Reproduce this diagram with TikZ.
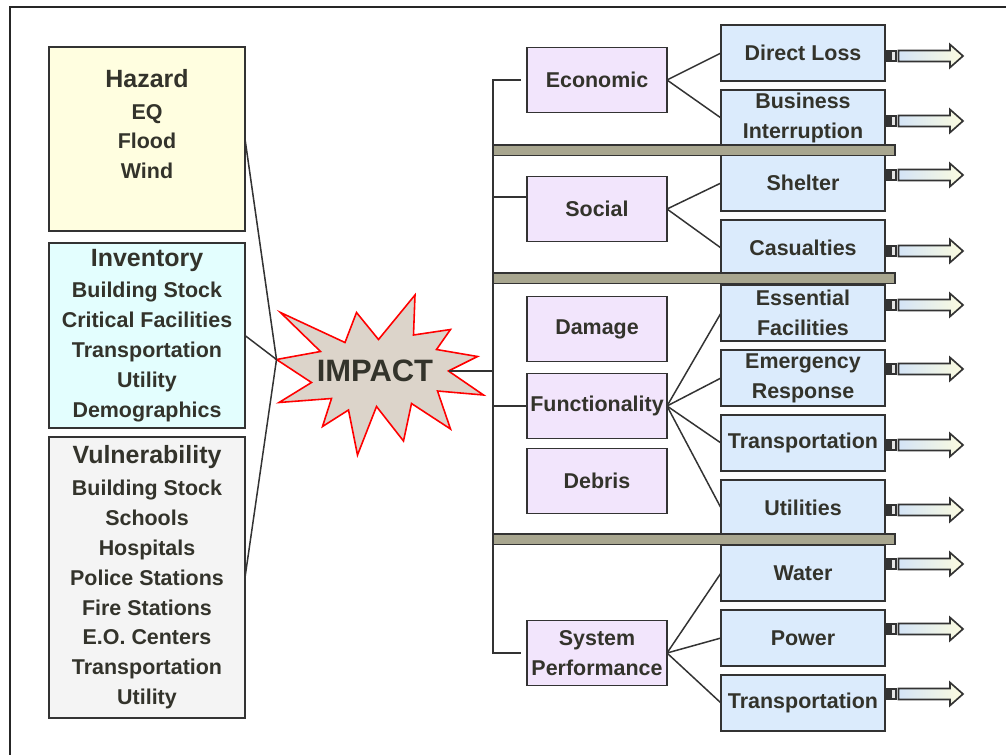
\documentclass[tikz,border=0pt]{standalone}
\usepackage{fontspec}
\setmainfont{Liberation Sans}
\usepackage{tikz}
\usetikzlibrary{positioning,calc}
\definecolor{lineaOsc}{HTML}{333333}
\definecolor{textoOsc}{HTML}{33332B}
\definecolor{peligroBg}{HTML}{FFFEE0}
\definecolor{inventarioBg}{HTML}{E3FEFE}
\definecolor{vulnerBg}{HTML}{F4F4F4}
\definecolor{efectoBg}{HTML}{F2E5FC}
\definecolor{salidaBg}{HTML}{DBEBFC}
\definecolor{barraGris}{HTML}{A8A68F}
\definecolor{estrellaBg}{HTML}{DCD4CA}
\definecolor{flechaAzul}{HTML}{D4E4F6}
\definecolor{flechaAmarillo}{HTML}{FBFBE0}
\tikzset{
  caja/.style={draw=lineaOsc, line width=1.1pt, align=center, fill=#1, text=textoOsc, inner sep=1pt, outer sep=0pt, font=\fontsize{12.2}{17}\selectfont\bfseries},
  cajaizq/.style={caja=#1, minimum width=3.92cm},
  efecto/.style={caja=efectoBg, minimum width=2.8cm, minimum height=1.3cm},
  salida/.style={caja=salidaBg, minimum width=3.28cm, minimum height=1.12cm},
  enlace/.style={draw=lineaOsc, line width=0.85pt},
  barra/.style={draw=lineaOsc, line width=0.85pt, fill=barraGris},
  estrella/.style={draw=red, line width=0.9pt, fill=estrellaBg, line join=miter},
  flecha/.style={draw=lineaOsc, line width=0.95pt, left color=flechaAzul, right color=flechaAmarillo},
}
\newcommand{\titulo}[1]{{\fontsize{14.2}{17}\selectfont #1}}

\begin{document}
\begin{tikzpicture}
\useasboundingbox (0,0) rectangle (20.12,-15.10);
% Marco
\draw[line width=1.2pt, draw=black!85] (0.20,-15.6) -- (0.20,-0.14) -- (20.6,-0.14);

% Columna izquierda
\node[cajaizq=peligroBg, minimum height=3.68cm] (hazard) at (2.94,-2.78) {\titulo{Hazard}\\[1pt]EQ\\Flood\\Wind\\\mbox{}};
\node[cajaizq=inventarioBg, minimum height=3.70cm, below=0.24cm of hazard] (inventory) {\titulo{Inventory}\\[1pt]Building Stock\\Critical Facilities\\Transportation\\Utility\\Demographics};
\node[cajaizq=vulnerBg, minimum height=5.62cm, below=0.18cm of inventory] (vulnerability) {\titulo{Vulnerability}\\[1pt]Building Stock\\Schools\\Hospitals\\Police Stations\\Fire Stations\\E.O. Centers\\Transportation\\Utility};

% Estrella central
\coordinate (impc) at (7.50,-7.42);
\begin{scope}[shift={(impc)}]
\draw[estrella] (-1.97,0.23) coordinate (hub) -- (-1.09,0.39) -- (-1.89,1.17) -- (-0.60,0.57) -- (-0.37,1.17) -- (0.07,0.63) -- (0.80,1.52) -- (0.77,0.72) -- (1.51,0.83) -- (1.23,0.43) -- (2.05,0.29) -- (1.47,0.00) coordinate (starout) -- (2.17,-0.48) -- (1.25,-0.40) -- (1.51,-1.16) -- (0.73,-0.65) -- (0.57,-1.40) -- (0.03,-0.71) -- (-0.35,-1.68) -- (-0.53,-0.78) -- (-1.05,-1.11) -- (-0.87,-0.55) -- (-1.92,-0.63) -- (-1.27,-0.23) -- cycle;
\end{scope}
\node[font=\fontsize{17.6}{20}\selectfont\bfseries, text=textoOsc, inner sep=0pt] (impact) at (impc) {IMPACT};

\foreach \b in {hazard,inventory,vulnerability}
  \draw[enlace] (\b.east) -- (hub);

% Columna de efectos
\node[efecto] (econ) at (11.94,-1.60) {Economic};
\node[efecto, below=1.28cm of econ] (social) {Social};
\node[efecto] (damage) at (11.94,-6.58) {Damage};
\node[efecto, below=0.24cm of damage] (func) {Functionality};
\node[efecto, below=0.20cm of func] (debris) {Debris};
\node[efecto] (sysperf) at (11.94,-13.06) {System\\Performance};

% Tronco
\coordinate (trunk) at (9.86,-1.58);
\coordinate (st) at ([yshift=0.24cm]social.west);
\draw[enlace] ([xshift=-0.12cm]econ.west) -- (econ.west -| trunk) -- (sysperf.west -| trunk) -- ([xshift=-0.12cm]sysperf.west);
\draw[enlace] (st -| trunk) -- (st);
\draw[enlace] (func.west -| trunk) -- (func.west);
\draw[enlace] (starout) -- (starout -| trunk);

% Columna de salidas
\node[salida] (dl) at (16.06,-1.06) {Direct Loss};
\node[salida, below=0.18cm of dl] (bi) {Business\\Interruption};
\node[salida, below=0.18cm of bi] (sh) {Shelter};
\node[salida, below=0.18cm of sh] (ca) {Casualties};
\node[salida, below=0.18cm of ca] (ef) {Essential\\Facilities};
\node[salida, below=0.18cm of ef] (er) {Emergency\\Response};
\node[salida, below=0.18cm of er] (tr) {Transportation};
\node[salida, below=0.18cm of tr] (ut) {Utilities};
\node[salida, below=0.18cm of ut] (wa) {Water};
\node[salida, below=0.18cm of wa] (po) {Power};
\node[salida, below=0.18cm of po] (ts) {Transportation};

\foreach \a/\b in {econ/dl, econ/bi, social/sh, social/ca, func/ef, func/er, func/tr, func/ut, sysperf/wa, sysperf/po, sysperf/ts}
  \draw[enlace] (\a.east) -- (\b.west);

% Separadores
\foreach \y in {2.90,5.46,10.68}
  \draw[barra] (9.86,-\y) rectangle (17.90,{-\y-0.21});

% Flechas de salida
\foreach \n/\dy in {dl/-0.06, bi/-0.06, sh/0.16, ca/-0.06, ef/0.16, er/0.18, tr/-0.04, ut/-0.04, wa/0.18, po/0.18, ts/0.18} {
  \coordinate (p) at ($(\n.east)+(0,\dy)$);
  \fill[lineaOsc] ([yshift=-0.12cm]p) rectangle ++(0.13,0.24);
  \draw[lineaOsc, fill=gray!20, line width=0.9pt] ([xshift=0.13cm,yshift=-0.1cm]p) rectangle ++(0.09,0.2);
  \draw[flecha, shift={(p)}] (0.27,0.11) -- (1.30,0.11) -- (1.30,0.23) -- (1.56,0) -- (1.30,-0.23) -- (1.30,-0.11) -- (0.27,-0.11) -- cycle;
}
\end{tikzpicture}
\end{document}
